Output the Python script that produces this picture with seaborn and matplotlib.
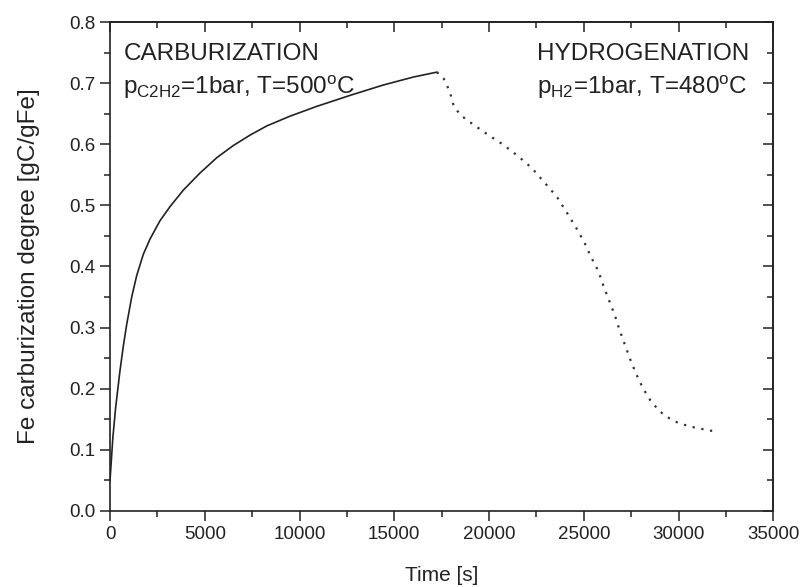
import matplotlib
matplotlib.use("Agg")
import matplotlib.pyplot as plt
from matplotlib.ticker import MultipleLocator, FormatStrFormatter
import seaborn as sns
import pandas as pd

# carburization (C2H2, 500 C) - solid curve
carb_time = [0, 150, 300, 528, 703, 879, 1144, 1407, 1758, 2112, 2640, 3167, 3870,
             4751, 5633, 6510, 7390, 8273, 9502, 10912, 12670, 14428, 16012, 17245]
carb_degree = [0.05, 0.12, 0.17, 0.23, 0.27, 0.305, 0.35, 0.385, 0.42, 0.445, 0.475, 0.498, 0.525,
               0.553, 0.578, 0.598, 0.615, 0.630, 0.646, 0.662, 0.680, 0.697, 0.710, 0.718]

# hydrogenation (H2, 480 C) - dotted curve
hyd_time = [17245, 17597, 17773, 17949, 18125, 18477, 19180, 19972, 20763, 21555, 22261,
            22965, 23581, 24109, 24584, 25023, 25375, 25761, 26042, 26343, 26642, 26888,
            27170, 27451, 27767, 28120, 28595, 29260, 30052, 30791, 31584, 31990]
hyd_degree = [0.718, 0.708, 0.697, 0.684, 0.664, 0.648, 0.632, 0.615, 0.599, 0.580, 0.561,
              0.536, 0.514, 0.488, 0.464, 0.440, 0.416, 0.393, 0.368, 0.344, 0.320, 0.296,
              0.272, 0.248, 0.224, 0.201, 0.177, 0.156, 0.143, 0.137, 0.132, 0.130]

sns.set_theme(style="ticks")
plt.rcParams["font.family"] = ["Liberation Sans", "DejaVu Sans"]
plt.rcParams["mathtext.default"] = "regular"

ink = "#222222"
df_carb = pd.DataFrame({"Time": carb_time, "Degree": carb_degree})
df_hyd = pd.DataFrame({"Time": hyd_time, "Degree": hyd_degree})

fig = plt.figure(figsize=(8.03, 5.87), dpi=100)
ax = fig.add_axes([0.137, 0.1295, 0.826, 0.833])

sns.lineplot(data=df_carb, x="Time", y="Degree", color=ink, linewidth=1.2,
             estimator=None, ax=ax)
sns.lineplot(data=df_hyd, x="Time", y="Degree", color="#333333", linewidth=1.6,
             linestyle=(0, (1, 3)), estimator=None, ax=ax)

ax.set_xlim(0, 35000)
ax.set_ylim(0, 0.8)
ax.xaxis.set_major_locator(MultipleLocator(5000))
ax.xaxis.set_minor_locator(MultipleLocator(2500))
ax.yaxis.set_major_locator(MultipleLocator(0.1))
ax.yaxis.set_minor_locator(MultipleLocator(0.05))
ax.yaxis.set_major_formatter(FormatStrFormatter("%.1f"))
ax.tick_params(which="major", direction="out", length=7, width=1.1, labelsize=13.5,
               color=ink, labelcolor=ink)
ax.tick_params(which="minor", direction="out", length=4, width=1.1, color=ink)
for s in ax.spines.values():
    s.set_linewidth(1.2)
    s.set_color(ink)

# mirrored ticks pointing inward on top/right
top = ax.secondary_xaxis("top")
top.xaxis.set_major_locator(MultipleLocator(5000))
top.xaxis.set_minor_locator(MultipleLocator(2500))
top.tick_params(which="major", direction="in", length=7, width=1.1, labeltop=False, color=ink)
top.tick_params(which="minor", direction="in", length=4, width=1.1, color=ink)
right = ax.secondary_yaxis("right")
right.yaxis.set_major_locator(MultipleLocator(0.1))
right.yaxis.set_minor_locator(MultipleLocator(0.05))
right.tick_params(which="major", direction="in", length=7, width=1.1, labelright=False, color=ink)
right.tick_params(which="minor", direction="in", length=4, width=1.1, color=ink)
for sec in (top, right):
    for s in sec.spines.values():
        s.set_linewidth(1.2)
        s.set_color(ink)

ax.set_xlabel("Time [s]", fontsize=15, color=ink, labelpad=17)
ax.set_ylabel("Fe carburization degree [gC/gFe]", fontsize=17.5, color=ink, labelpad=21)

ax.text(0.02, 0.922, "CARBURIZATION", transform=ax.transAxes, fontsize=17.5,
        color=ink, va="baseline")
ax.text(0.02, 0.853, r"p$_{C2H2}$=1bar, T=500$^{o}$C", transform=ax.transAxes,
        fontsize=17.5, color=ink, va="baseline")
ax.text(0.644, 0.922, "HYDROGENATION", transform=ax.transAxes, fontsize=17.5,
        color=ink, va="baseline")
ax.text(0.644, 0.853, r"p$_{H2}$=1bar, T=480$^{o}$C", transform=ax.transAxes,
        fontsize=17.5, color=ink, va="baseline")

fig.savefig("out.png", dpi=100)
